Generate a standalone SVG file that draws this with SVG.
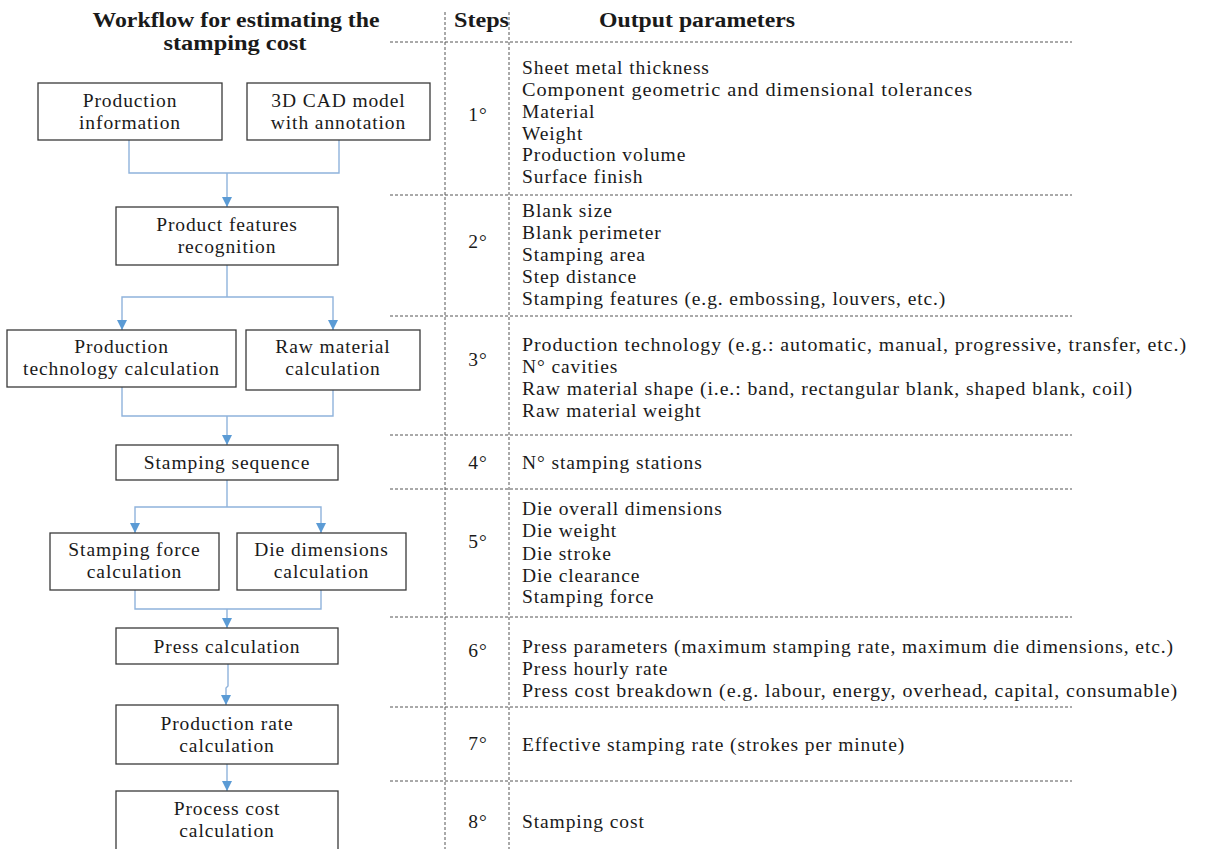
<svg xmlns="http://www.w3.org/2000/svg" width="1208" height="849" viewBox="0 0 1208 849">
<style>
  .box { fill: #ffffff; stroke: #3a3a3a; stroke-width: 1.3; }
  .t { font-family: "Liberation Serif", "Times New Roman", serif; font-size: 19.5px; letter-spacing: 0.9px; fill: #1a1a1a; }
  .c { text-anchor: middle; }
  .h { font-family: "Liberation Serif", "Times New Roman", serif; font-size: 20.5px; font-weight: bold; fill: #1a1a1a; }
  .dash { stroke: #555555; stroke-width: 1; stroke-dasharray: 3 2; fill: none; }
  .conn { stroke: #8fb3dc; stroke-width: 1.4; fill: none; }
  .arr { marker-end: url(#ah); }
</style>
<defs>
  <marker id="ah" markerUnits="userSpaceOnUse" markerWidth="11" markerHeight="10" refX="10" refY="5" orient="auto">
    <path d="M0,0 L10,5 L0,10 z" fill="#5b9bd5"/>
  </marker>
</defs>
<rect width="1208" height="849" fill="#ffffff"/>

<g id="headers">
  <text class="h c" x="236" y="27" textLength="287" lengthAdjust="spacingAndGlyphs">Workflow for estimating the</text>
  <text class="h c" x="235" y="50" textLength="143" lengthAdjust="spacingAndGlyphs">stamping cost</text>
  <text class="h" x="454" y="27" textLength="55" lengthAdjust="spacingAndGlyphs">Steps</text>
  <text class="h" x="599" y="27" textLength="196" lengthAdjust="spacingAndGlyphs">Output parameters</text>
</g>

<g id="grid">
  <line class="dash" x1="445" y1="12" x2="445" y2="849"/>
  <line class="dash" x1="509" y1="12" x2="509" y2="849"/>
  <line class="dash" x1="390" y1="42" x2="1072" y2="42"/>
  <line class="dash" x1="390" y1="195" x2="1072" y2="195"/>
  <line class="dash" x1="390" y1="316" x2="1072" y2="316"/>
  <line class="dash" x1="390" y1="435" x2="1072" y2="435"/>
  <line class="dash" x1="390" y1="489" x2="1072" y2="489"/>
  <line class="dash" x1="390" y1="617" x2="1072" y2="617"/>
  <line class="dash" x1="390" y1="707" x2="1072" y2="707"/>
  <line class="dash" x1="390" y1="781" x2="1072" y2="781"/>
</g>

<g id="connectors">
  <path class="conn" d="M129,140 V173 H339 V140"/>
  <path class="conn arr" d="M227,173 V207"/>
  <path class="conn" d="M227,265 V297"/>
  <path class="conn arr" d="M227,297 H122 V330"/>
  <path class="conn arr" d="M227,297 H333 V330"/>
  <path class="conn" d="M122,387 V416 H333 V390"/>
  <path class="conn arr" d="M227,416 V445"/>
  <path class="conn" d="M227,480 V507"/>
  <path class="conn arr" d="M227,507 H135 V533"/>
  <path class="conn arr" d="M227,507 H321 V533"/>
  <path class="conn" d="M135,590 V609 H321 V590"/>
  <path class="conn arr" d="M227,609 V628"/>
  <path class="conn arr" d="M228,664 V686 L226,688 V705"/>
  <path class="conn arr" d="M227,764 V791"/>
</g>

<g id="n-production-info">
  <rect class="box" x="38" y="83" width="184" height="57"/>
  <text class="t c" x="130" y="107">Production</text>
  <text class="t c" x="130" y="129">information</text>
</g>
<g id="n-cad-model">
  <rect class="box" x="247" y="83" width="183" height="57"/>
  <text class="t c" x="338.5" y="107">3D CAD model</text>
  <text class="t c" x="338.5" y="129">with annotation</text>
</g>
<g id="n-product-features">
  <rect class="box" x="116" y="207" width="222" height="58"/>
  <text class="t c" x="227" y="231">Product features</text>
  <text class="t c" x="227" y="253">recognition</text>
</g>
<g id="n-production-tech">
  <rect class="box" x="7" y="330" width="229" height="57"/>
  <text class="t c" x="121.5" y="353">Production</text>
  <text class="t c" x="121.5" y="375">technology calculation</text>
</g>
<g id="n-raw-material">
  <rect class="box" x="246" y="330" width="174" height="60"/>
  <text class="t c" x="333" y="353">Raw material</text>
  <text class="t c" x="333" y="375">calculation</text>
</g>
<g id="n-stamping-sequence">
  <rect class="box" x="116" y="445" width="222" height="35"/>
  <text class="t c" x="227" y="469">Stamping sequence</text>
</g>
<g id="n-stamping-force">
  <rect class="box" x="50" y="533" width="169" height="57"/>
  <text class="t c" x="134.5" y="556">Stamping force</text>
  <text class="t c" x="134.5" y="578">calculation</text>
</g>
<g id="n-die-dimensions">
  <rect class="box" x="237" y="533" width="169" height="57"/>
  <text class="t c" x="321.5" y="556">Die dimensions</text>
  <text class="t c" x="321.5" y="578">calculation</text>
</g>
<g id="n-press">
  <rect class="box" x="116" y="628" width="222" height="36"/>
  <text class="t c" x="227" y="653">Press calculation</text>
</g>
<g id="n-production-rate">
  <rect class="box" x="116" y="705" width="222" height="59"/>
  <text class="t c" x="227" y="730">Production rate</text>
  <text class="t c" x="227" y="752">calculation</text>
</g>
<g id="n-process-cost">
  <rect class="box" x="116" y="791" width="222" height="70"/>
  <text class="t c" x="227" y="815">Process cost</text>
  <text class="t c" x="227" y="837">calculation</text>
</g>

<g id="steps">
  <text class="t c" x="478" y="121">1°</text>
  <text class="t c" x="478" y="248">2°</text>
  <text class="t c" x="478" y="366">3°</text>
  <text class="t c" x="478" y="469">4°</text>
  <text class="t c" x="478" y="548">5°</text>
  <text class="t c" x="478" y="657">6°</text>
  <text class="t c" x="478" y="750">7°</text>
  <text class="t c" x="478" y="828">8°</text>
</g>

<g id="outputs">
  <text class="t" x="522" y="74">Sheet metal thickness</text>
  <text class="t" x="522" y="96" textLength="451" lengthAdjust="spacingAndGlyphs">Component geometric and dimensional tolerances</text>
  <text class="t" x="522" y="118">Material</text>
  <text class="t" x="522" y="140">Weight</text>
  <text class="t" x="522" y="161">Production volume</text>
  <text class="t" x="522" y="183">Surface finish</text>

  <text class="t" x="522" y="217">Blank size</text>
  <text class="t" x="522" y="239">Blank perimeter</text>
  <text class="t" x="522" y="261">Stamping area</text>
  <text class="t" x="522" y="283">Step distance</text>
  <text class="t" x="522" y="305">Stamping features (e.g. embossing, louvers, etc.)</text>

  <text class="t" x="522" y="351" textLength="665" lengthAdjust="spacingAndGlyphs">Production technology (e.g.: automatic, manual, progressive, transfer, etc.)</text>
  <text class="t" x="522" y="373">N° cavities</text>
  <text class="t" x="522" y="395" textLength="611" lengthAdjust="spacingAndGlyphs">Raw material shape (i.e.: band, rectangular blank, shaped blank, coil)</text>
  <text class="t" x="522" y="417">Raw material weight</text>

  <text class="t" x="522" y="469">N° stamping stations</text>

  <text class="t" x="522" y="515">Die overall dimensions</text>
  <text class="t" x="522" y="537">Die weight</text>
  <text class="t" x="522" y="560">Die stroke</text>
  <text class="t" x="522" y="582">Die clearance</text>
  <text class="t" x="522" y="603">Stamping force</text>

  <text class="t" x="522" y="653" textLength="652" lengthAdjust="spacingAndGlyphs">Press parameters (maximum stamping rate, maximum die dimensions, etc.)</text>
  <text class="t" x="522" y="675">Press hourly rate</text>
  <text class="t" x="522" y="697" textLength="656" lengthAdjust="spacingAndGlyphs">Press cost breakdown (e.g. labour, energy, overhead, capital, consumable)</text>

  <text class="t" x="522" y="751">Effective stamping rate (strokes per minute)</text>

  <text class="t" x="522" y="828">Stamping cost</text>
</g>
</svg>
